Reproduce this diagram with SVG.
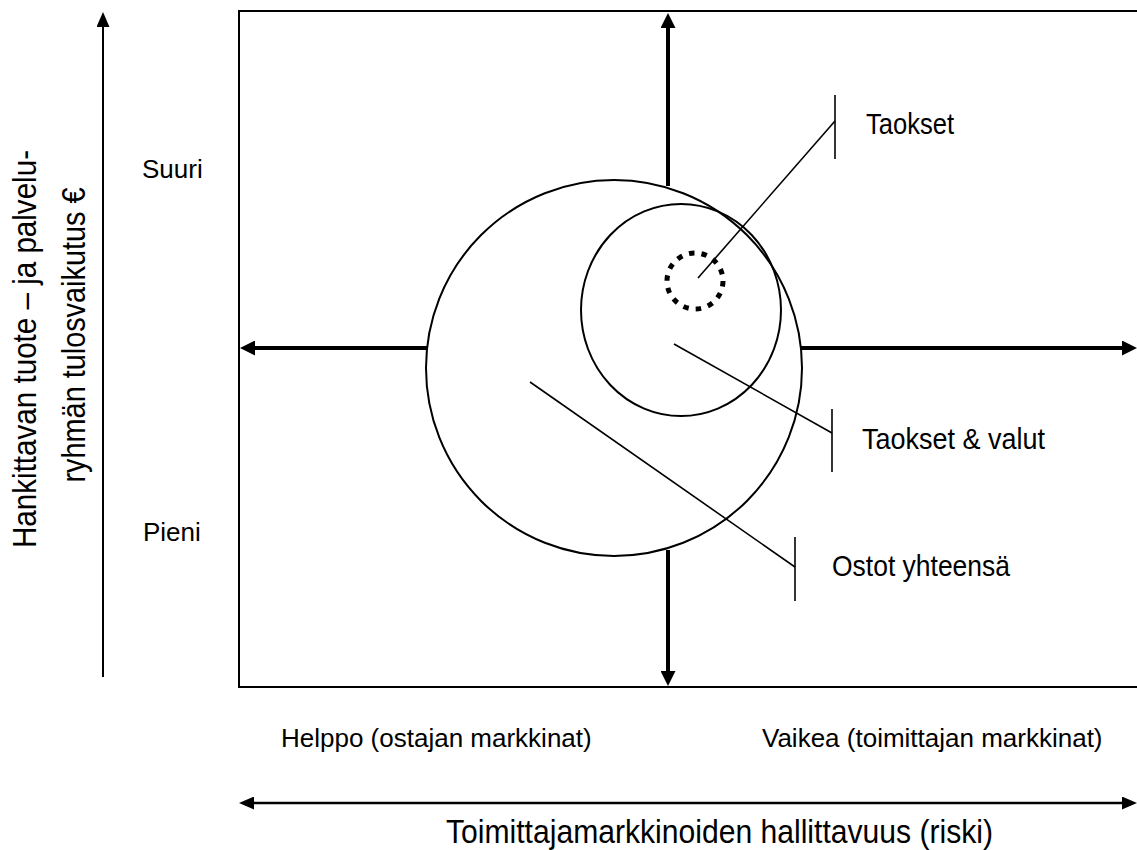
<svg xmlns="http://www.w3.org/2000/svg" width="1137" height="850" viewBox="0 0 1137 850">
<style>
.ln{stroke:#000;fill:none}
.t{font-family:"Liberation Sans",Arial,sans-serif;font-size:26px;fill:#000}
.n{font-family:"Liberation Sans Narrow","Liberation Sans",Arial,sans-serif;fill:#000}
</style>
<defs>
<marker id="ah" viewBox="0 0 10 10" refX="0" refY="5" markerWidth="15" markerHeight="15" markerUnits="userSpaceOnUse" orient="auto-start-reverse"><path d="M0,0 L10,5 L0,10 z" fill="#000"/></marker>
<marker id="ahs" viewBox="0 0 10 10" refX="0" refY="5" markerWidth="15" markerHeight="13" markerUnits="userSpaceOnUse" orient="auto-start-reverse" preserveAspectRatio="none"><path d="M0,0 L10,5 L0,10 z" fill="#000"/></marker>
</defs>
<g id="frame">
<path class="ln" stroke-width="2" d="M1137,11 H239 V687 H1137"/>
</g>
<g id="connectors">
<path class="ln" stroke-width="2" d="M103,677 V27" marker-end="url(#ahs)"/>
<path class="ln" stroke-width="4" d="M668,186 V28" marker-end="url(#ah)"/>
<path class="ln" stroke-width="4" d="M668,550 V671" marker-end="url(#ah)"/>
<path class="ln" stroke-width="4" d="M428,348 H255" marker-end="url(#ah)"/>
<path class="ln" stroke-width="4" d="M800,348 H1122" marker-end="url(#ah)"/>
<path class="ln" stroke-width="2.5" d="M254,803 H1122" marker-start="url(#ahs)" marker-end="url(#ahs)"/>
<path class="ln" stroke-width="1.6" d="M698,278 L835,121"/>
<path class="ln" stroke-width="1.6" d="M835,95 V159"/>
<path class="ln" stroke-width="1.6" d="M674,344 L832,433"/>
<path class="ln" stroke-width="1.6" d="M832,409 V472"/>
<path class="ln" stroke-width="1.6" d="M530,382 L795,567"/>
<path class="ln" stroke-width="1.6" d="M795,537 V601"/>
</g>
<g id="ostot-yhteensa">
<circle class="ln" stroke-width="2" cx="614" cy="368" r="188"/>
<text class="n" x="832" y="576" font-size="29" textLength="178" lengthAdjust="spacingAndGlyphs">Ostot yhteensä</text>
</g>
<g id="taokset-valut">
<ellipse class="ln" stroke-width="2" cx="681" cy="310" rx="100" ry="106"/>
<text class="n" x="862" y="449" font-size="29" textLength="183" lengthAdjust="spacingAndGlyphs">Taokset &amp; valut</text>
</g>
<g id="taokset">
<circle class="ln" stroke-width="5" stroke-dasharray="5.5 7.07" cx="695" cy="281" r="28"/>
<text class="n" x="866" y="134" font-size="29" textLength="88" lengthAdjust="spacingAndGlyphs">Taokset</text>
</g>
<g id="labels">
<text class="t" x="142" y="178">Suuri</text>
<text class="t" x="143" y="541">Pieni</text>
<text class="t" x="281" y="747">Helppo (ostajan markkinat)</text>
<text class="t" x="762" y="747">Vaikea (toimittajan markkinat)</text>
<text class="n" x="446" y="843" font-size="34" textLength="547" lengthAdjust="spacingAndGlyphs">Toimittajamarkkinoiden hallittavuus (riski)</text>
<text class="n" font-size="34" text-anchor="middle" transform="translate(36,349) rotate(-90)" textLength="398" lengthAdjust="spacingAndGlyphs">Hankittavan tuote – ja palvelu-</text>
<text class="n" font-size="34" text-anchor="middle" transform="translate(85,335) rotate(-90)" textLength="295" lengthAdjust="spacingAndGlyphs">ryhmän tulosvaikutus €</text>
</g>
</svg>
